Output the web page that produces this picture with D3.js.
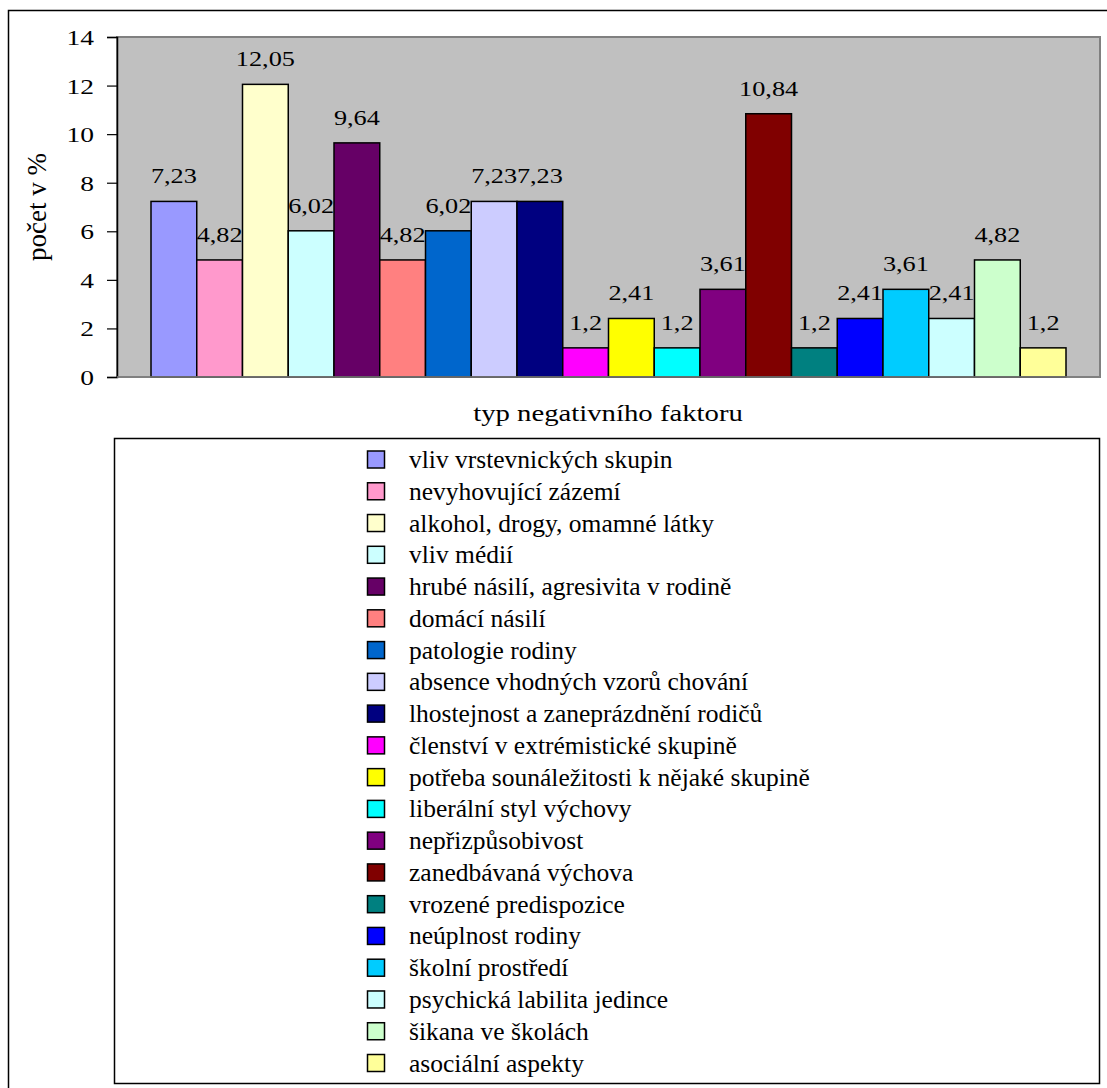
<!DOCTYPE html>
<html>
<head>
<meta charset="utf-8">
<script src="https://cdn.jsdelivr.net/npm/d3@7"></script>
<style>
  body { margin: 0; background: #fff; }
</style>
</head>
<body>
<svg id="chart" width="1107" height="1088"></svg>
<script>
// data
var categories = [
  "vliv vrstevnických skupin",
  "nevyhovující zázemí",
  "alkohol, drogy, omamné látky",
  "vliv médií",
  "hrubé násilí, agresivita v rodině",
  "domácí násilí",
  "patologie rodiny",
  "absence vhodných vzorů chování",
  "lhostejnost a zaneprázdnění rodičů",
  "členství v extrémistické skupině",
  "potřeba sounáležitosti k nějaké skupině",
  "liberální styl výchovy",
  "nepřizpůsobivost",
  "zanedbávaná výchova",
  "vrozené predispozice",
  "neúplnost rodiny",
  "školní prostředí",
  "psychická labilita jedince",
  "šikana ve školách",
  "asociální aspekty"
];
var values = [7.23, 4.82, 12.05, 6.02, 9.64, 4.82, 6.02, 7.23, 7.23, 1.2,
              2.41, 1.2, 3.61, 10.84, 1.2, 2.41, 3.61, 2.41, 4.82, 1.2];
var colors = ["#9999FF", "#FF99CC", "#FFFFCC", "#CCFFFF", "#660066", "#FF8080",
              "#0066CC", "#CCCCFF", "#000080", "#FF00FF", "#FFFF00", "#00FFFF",
              "#800080", "#800000", "#008080", "#0000FF", "#00CCFF", "#CCFFFF",
              "#CCFFCC", "#FFFF99"];
var yTicks = [0, 2, 4, 6, 8, 10, 12, 14];
var yTitle = "počet v %";
var xTitle = "typ negativního faktoru";

var plot = {left: 117, right: 1100, top: 37, bottom: 377};
var stretch = 1.25; // chart text in the picture is drawn wide
var serif = "Liberation Serif";

var svg = d3.select("#chart");

// outer frame (runs past the right and bottom edge)
svg.append("rect")
    .attr("x", 8.5).attr("y", 10.5)
    .attr("width", 1200).attr("height", 1200)
    .attr("fill", "none").attr("stroke", "#000").attr("stroke-width", 1.5);

// plot area
svg.append("rect")
    .attr("x", plot.left).attr("y", plot.top)
    .attr("width", plot.right - plot.left).attr("height", plot.bottom - plot.top)
    .attr("fill", "#c0c0c0").attr("stroke", "#808080").attr("stroke-width", 2);

var y = d3.scaleLinear()
    .domain([0, 14])
    .range([plot.bottom, plot.top]);

var x = d3.scaleBand()
    .domain(categories)
    .range([151, 1066])
    .padding(0);

// y axis
var yAxis = svg.append("g")
    .attr("transform", "translate(" + plot.left + ",0)")
    .call(d3.axisLeft(y)
        .tickValues(yTicks)
        .tickSize(10)
        .tickPadding(0)
        .tickFormat(function(d) { return d; }));
yAxis.attr("font-family", serif);
yAxis.select(".domain").attr("stroke", "#000").attr("stroke-width", 1.5);
yAxis.selectAll(".tick line").attr("stroke", "#000").attr("stroke-width", 1.2);
yAxis.selectAll(".tick text")
    .attr("x", null).attr("dy", null)
    .attr("fill", "#000")
    .attr("font-size", 22)
    .attr("text-anchor", "end")
    .attr("transform", "translate(-23,7.5) scale(" + stretch + ",1)");

// bars
svg.append("g").selectAll("rect")
    .data(values)
  .enter().append("rect")
    .attr("x", function(d, i) { return x(categories[i]); })
    .attr("y", function(d) { return y(d); })
    .attr("width", x.bandwidth())
    .attr("height", function(d) { return y(0) - y(d); })
    .attr("fill", function(d, i) { return colors[i]; })
    .attr("stroke", "#000")
    .attr("stroke-width", 1.5);

// baseline
svg.append("line")
    .attr("x1", plot.left).attr("x2", plot.right)
    .attr("y1", y(0)).attr("y2", y(0))
    .attr("stroke", "#808080").attr("stroke-width", 1.5);

// value labels
svg.append("g").selectAll("text")
    .data(values)
  .enter().append("text")
    .attr("font-family", serif)
    .attr("font-size", 21)
    .attr("text-anchor", "middle")
    .attr("transform", function(d, i) {
      return "translate(" + (x(categories[i]) + x.bandwidth() / 2) + "," + (y(d) - 18) + ") scale(" + stretch + ",1)";
    })
    .text(function(d) { return String(d).replace(".", ","); });

// axis titles
svg.append("text")
    .attr("font-family", serif)
    .attr("font-size", 27)
    .attr("text-anchor", "middle")
    .attr("transform", "translate(46,207) rotate(-90)")
    .text(yTitle);

svg.append("text")
    .attr("font-family", serif)
    .attr("font-size", 23)
    .attr("text-anchor", "middle")
    .attr("transform", "translate(608,421) scale(" + stretch + ",1)")
    .text(xTitle);

// legend
var legend = svg.append("g");
legend.append("rect")
    .attr("x", 114.5).attr("y", 438.5)
    .attr("width", 985).attr("height", 645)
    .attr("fill", "#fff").attr("stroke", "#000").attr("stroke-width", 1.5);

var row = d3.scaleLinear().domain([0, 19]).range([459.5, 1063]);

var item = legend.selectAll(".item")
    .data(categories)
  .enter().append("g")
    .attr("class", "item")
    .attr("transform", function(d, i) { return "translate(0," + row(i) + ")"; });

item.append("rect")
    .attr("x", 367.5).attr("y", -8.5)
    .attr("width", 17).attr("height", 17)
    .attr("fill", function(d, i) { return colors[i]; })
    .attr("stroke", "#000").attr("stroke-width", 1.5);

item.append("text")
    .attr("x", 409)
    .attr("y", 8.5)
    .attr("font-family", serif)
    .attr("font-size", 25.5)
    .text(function(d) { return d; });
</script>
</body>
</html>
